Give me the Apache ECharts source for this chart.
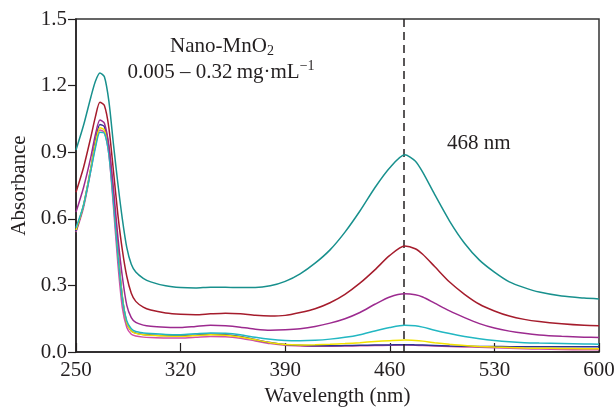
<!DOCTYPE html>
<html>
<head>
<meta charset="utf-8">
<script src="https://cdn.jsdelivr.net/npm/echarts@6/dist/echarts.min.js"></script>
<style>html,body{margin:0;padding:0;background:#fff;}#c{width:614px;height:408px;}</style>
</head>
<body>
<div id="c"></div>
<script>
var wavelengths = [250,255,260,263,266,269,272,275,278,281,284,287,290,295,300,310,320,330,340,350,360,370,380,390,400,410,420,430,440,450,460,470,477,482,490,500,510,520,530,540,550,560,575,590,600];

var c032 = [0.91,1.02,1.15,1.22,1.257,1.24,1.13,0.94,0.76,0.6,0.47,0.395,0.36,0.332,0.316,0.298,0.29,0.288,0.292,0.292,0.29,0.29,0.298,0.318,0.352,0.40,0.46,0.54,0.635,0.74,0.83,0.888,0.86,0.81,0.71,0.59,0.49,0.414,0.36,0.316,0.29,0.27,0.252,0.243,0.239];
var c016 = [0.72,0.83,0.97,1.06,1.125,1.11,1.01,0.82,0.62,0.46,0.34,0.265,0.228,0.202,0.189,0.176,0.17,0.168,0.172,0.175,0.172,0.165,0.162,0.165,0.178,0.195,0.222,0.26,0.31,0.37,0.435,0.477,0.465,0.44,0.385,0.315,0.26,0.215,0.185,0.162,0.147,0.137,0.127,0.12,0.118];
var c008 = [0.63,0.74,0.88,0.98,1.045,1.03,0.93,0.74,0.52,0.34,0.21,0.155,0.133,0.121,0.116,0.112,0.11,0.115,0.12,0.118,0.112,0.103,0.098,0.1,0.105,0.115,0.13,0.15,0.178,0.215,0.248,0.262,0.258,0.248,0.22,0.185,0.155,0.128,0.108,0.094,0.084,0.077,0.071,0.067,0.065];
var c004 = [0.56,0.66,0.82,0.92,0.99,0.985,0.89,0.68,0.44,0.24,0.14,0.105,0.092,0.086,0.083,0.079,0.078,0.082,0.086,0.085,0.078,0.066,0.057,0.052,0.051,0.053,0.058,0.066,0.078,0.095,0.11,0.12,0.118,0.112,0.098,0.083,0.07,0.06,0.052,0.046,0.042,0.04,0.038,0.036,0.035];
var c002 = [0.55,0.66,0.83,0.94,1.01,1.0,0.91,0.7,0.45,0.25,0.13,0.095,0.084,0.078,0.075,0.072,0.071,0.074,0.078,0.076,0.068,0.055,0.042,0.034,0.032,0.033,0.035,0.038,0.042,0.047,0.051,0.054,0.052,0.049,0.042,0.035,0.029,0.025,0.022,0.02,0.018,0.017,0.016,0.015,0.015];
var c001 = [0.545,0.66,0.83,0.95,1.025,1.015,0.92,0.71,0.46,0.25,0.13,0.095,0.085,0.079,0.077,0.074,0.073,0.076,0.08,0.078,0.07,0.056,0.043,0.034,0.03,0.028,0.028,0.029,0.03,0.031,0.032,0.033,0.032,0.031,0.029,0.027,0.026,0.025,0.025,0.024,0.024,0.024,0.024,0.024,0.024];
var c0005 = [0.54,0.65,0.82,0.93,1.0,0.99,0.89,0.66,0.4,0.2,0.11,0.08,0.072,0.067,0.065,0.063,0.063,0.066,0.07,0.069,0.062,0.05,0.038,0.03,0.027,0.026,0.026,0.027,0.028,0.029,0.03,0.031,0.03,0.029,0.027,0.025,0.023,0.021,0.019,0.017,0.015,0.013,0.011,0.01,0.01];

var seriesNames = ['0.005','0.01','0.02','0.04','0.08','0.16','0.32'];
var seriesData = [c0005, c001, c002, c004, c008, c016, c032];
var seriesColors = ['#d24fa6','#2e3192','#f2e200','#22b7c2','#9c2a8f','#a51c2c','#18908d'];

var xTicks = [250, 600, 70];
var yTicks = [0, 1.5, 0.3];
var peakLabel = '468 nm';
var peakLinePosition = 469.5;

var FONT = 'Liberation Serif';
var TXT = '#231f20';
var FS = 21;

function pairs(arr){ return wavelengths.map(function(w,i){ return [w, arr[i]]; }); }

var series = seriesData.map(function(d, i){
  return {
    name: seriesNames[i], type: 'line', data: pairs(d), showSymbol: false,
    smooth: 0.25, lineStyle: {color: seriesColors[i], width: 1.5}, itemStyle:{color: seriesColors[i]},
    silent: true, z: 2 + i
  };
});
series.push({
  type: 'line', data: [], silent: true,
  markLine: {
    symbol: ['none','none'], silent: true, animation: false,
    lineStyle: {color: '#231f20', type: [8,5], width: 1.5},
    label: {show: false},
    data: [[{coord:[peakLinePosition, yTicks[0]]},{coord:[peakLinePosition, yTicks[1]]}]]
  }
});

var chart = echarts.init(document.getElementById('c'), null, {renderer:'canvas'});
chart.setOption({
  animation: false,
  backgroundColor: '#fff',
  grid: {left: 76, top: 19, width: 523, height: 333, containLabel: false, outerBoundsMode: 'none', show: true, borderColor: '#333', borderWidth: 1.5, backgroundColor: 'transparent'},
  xAxis: {
    type: 'value', min: xTicks[0], max: xTicks[1], interval: xTicks[2],
    name: 'Wavelength (nm)', nameLocation: 'middle', nameGap: 34,
    nameTextStyle: {fontFamily: FONT, fontSize: FS, color: TXT},
    axisLine: {lineStyle: {color: '#231f20', width: 1.5}},
    axisTick: {inside: true, length: 9, lineStyle: {color: '#231f20', width: 1.2}},
    axisLabel: {fontFamily: FONT, fontSize: FS, color: TXT, margin: 8},
    splitLine: {show: false}
  },
  yAxis: {
    type: 'value', min: yTicks[0], max: yTicks[1], interval: yTicks[2],
    name: 'Absorbance', nameLocation: 'middle', nameGap: 39,
    nameTextStyle: {fontFamily: FONT, fontSize: FS, color: TXT},
    axisLine: {lineStyle: {color: '#231f20', width: 1.5}},
    axisTick: {inside: false, length: 8, lineStyle: {color: '#231f20', width: 1.2}},
    axisLabel: {fontFamily: FONT, fontSize: FS, color: TXT, margin: 9, formatter: function(v){ return v.toFixed(1); }},
    splitLine: {show: false}
  },
  graphic: [
    {type:'text', x: 222, y: 46, z: 100, style: {
      text: '{a|Nano-MnO}{s|2}', align: 'center', verticalAlign: 'middle',
      rich: {a:{fontFamily: FONT, fontSize: FS, fill: TXT}, s:{fontFamily: FONT, fontSize: 14, fill: TXT, padding:[11,0,0,0]}}
    }},
    {type:'text', x: 221, y: 72, z: 100, style: {
      text: '{a|0.005 – 0.32\u2009mg·mL}{s|−1}', align: 'center', verticalAlign: 'middle',
      rich: {a:{fontFamily: FONT, fontSize: FS, fill: TXT}, s:{fontFamily: FONT, fontSize: 14, fill: TXT, padding:[0,0,11,0]}}
    }},
    {type:'text', x: 447, y: 143, z: 100, style: {
      text: peakLabel, align: 'left', verticalAlign: 'middle', fontFamily: FONT, fontSize: FS, fill: TXT
    }}
  ],
  series: series
});
</script>
</body>
</html>
